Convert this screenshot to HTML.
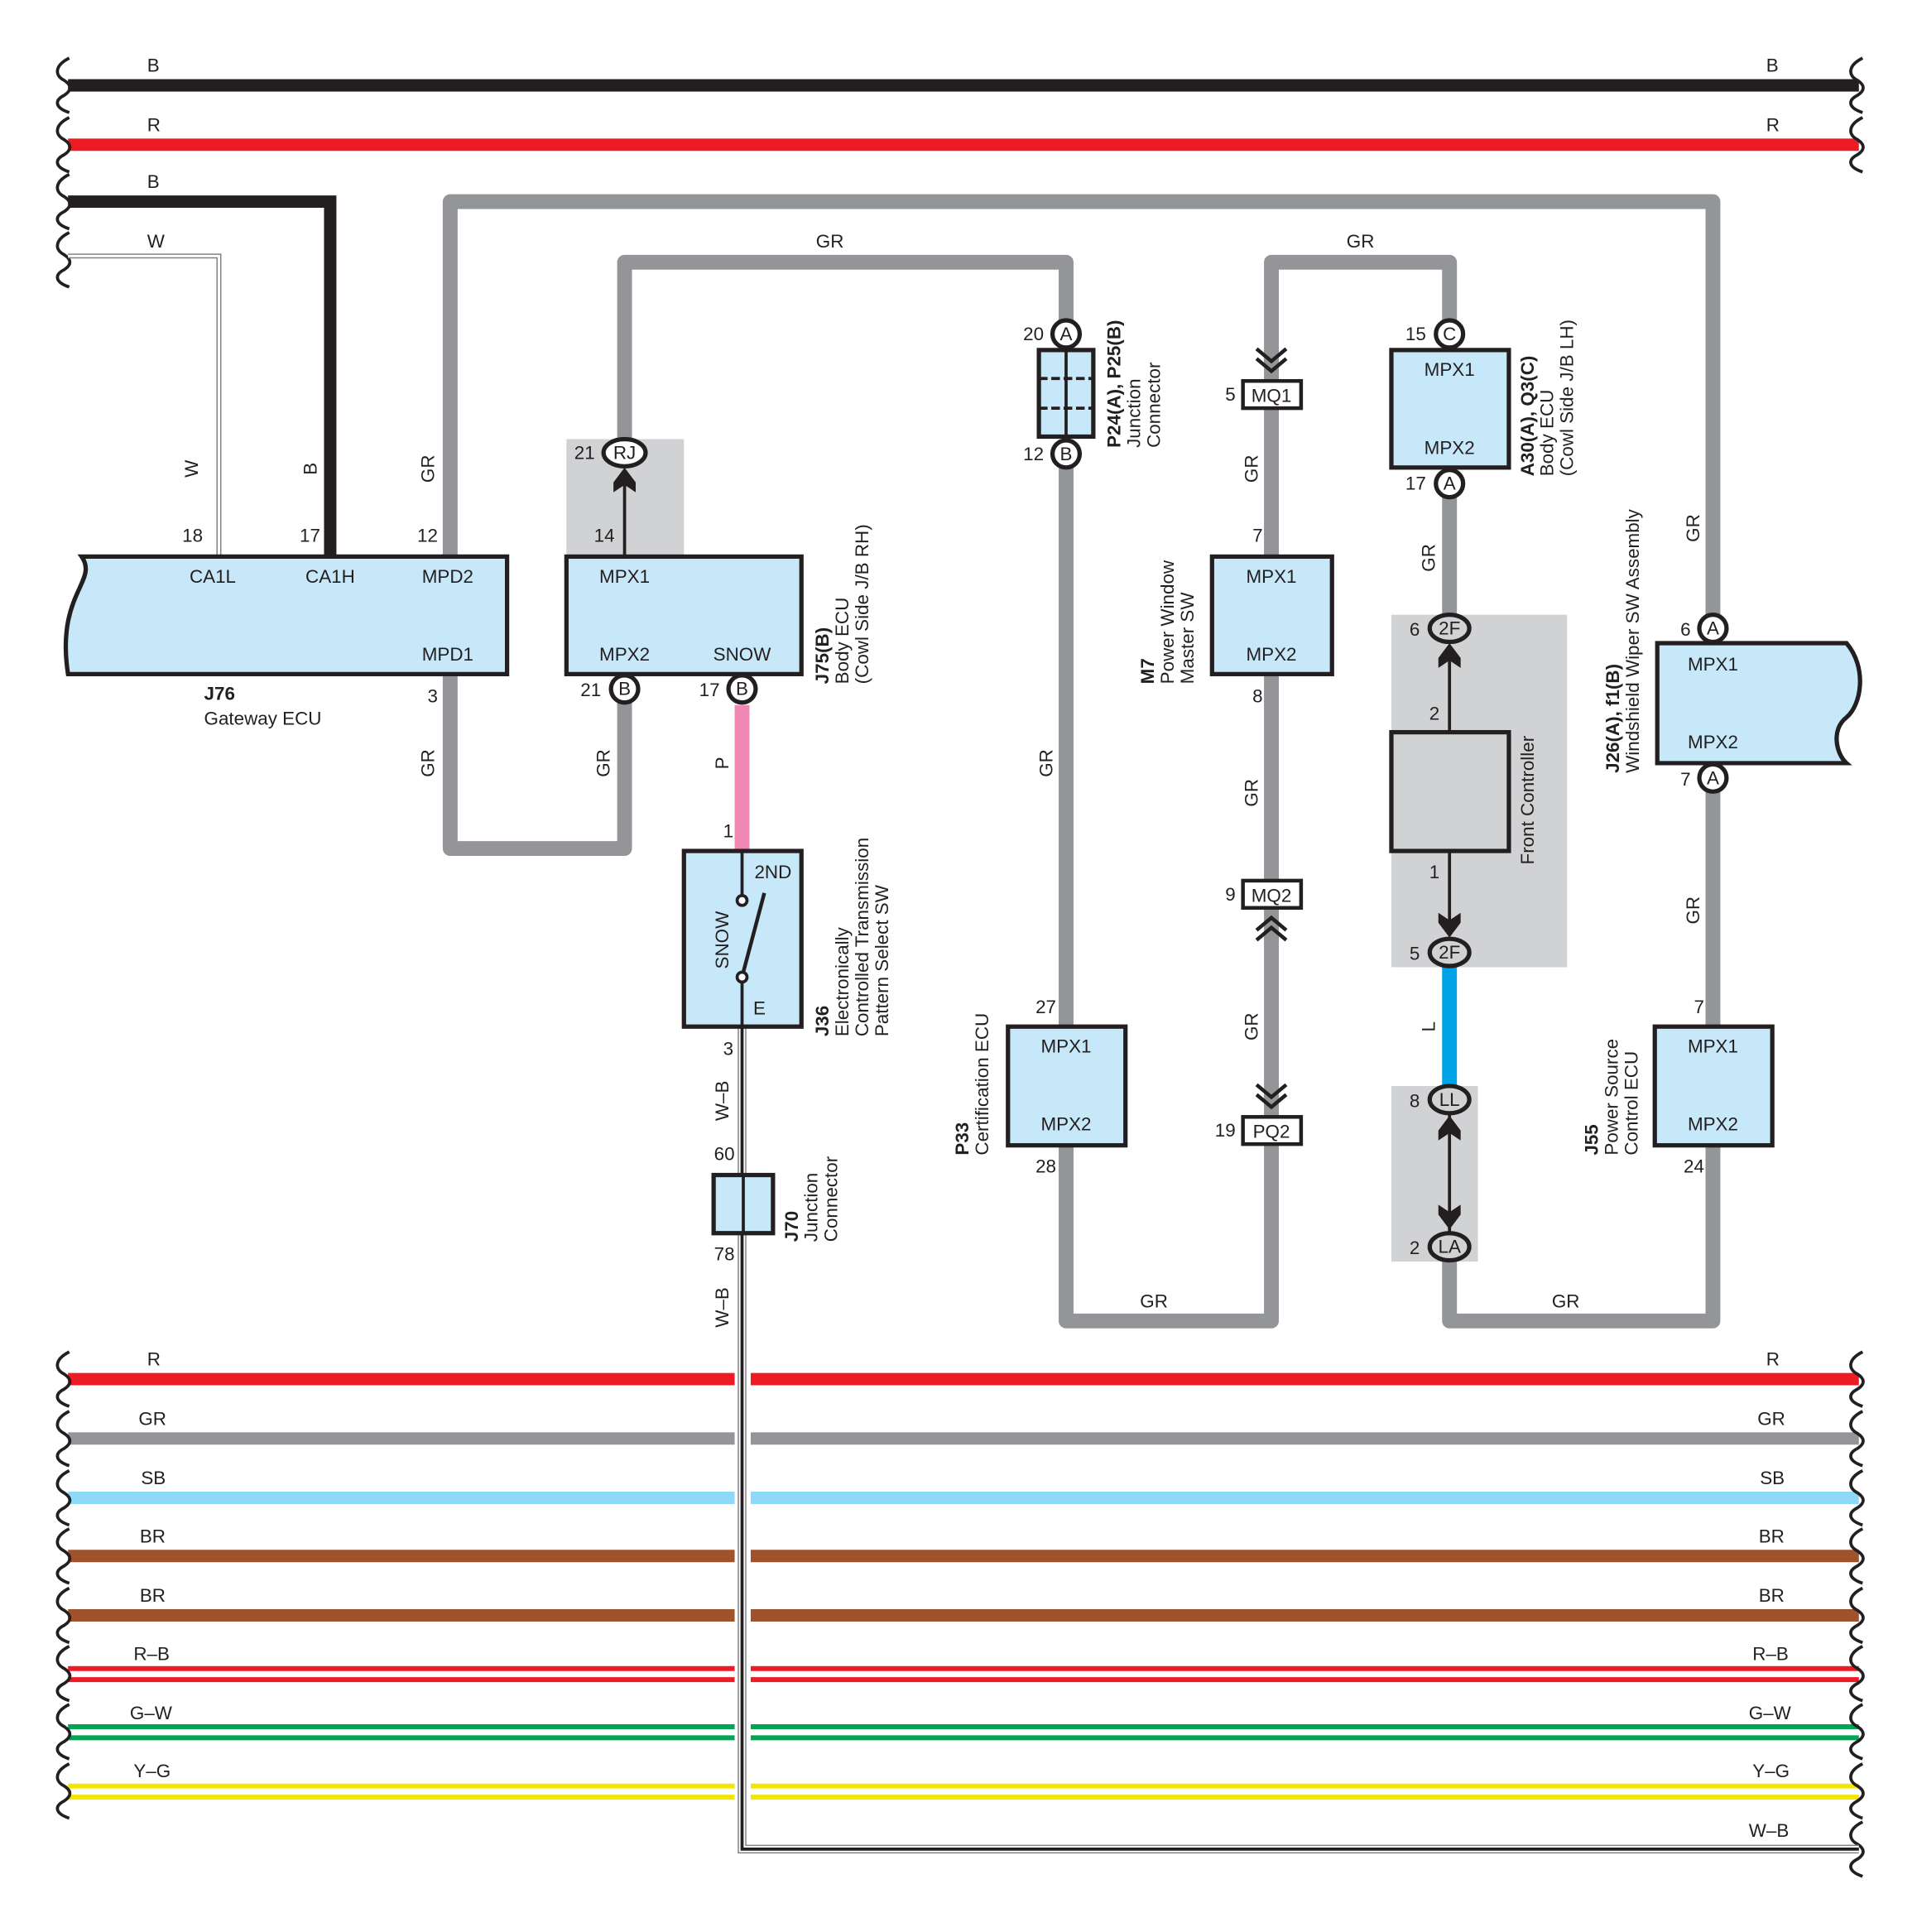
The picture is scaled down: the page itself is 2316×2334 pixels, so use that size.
<!DOCTYPE html>
<html><head><meta charset="utf-8"><style>
html,body{margin:0;padding:0;background:#fff}
svg{display:block}
text{font-family:"Liberation Sans",sans-serif;fill:#231f20}
</style></head><body>
<svg width="2316" height="2334" viewBox="0 0 1550 1562" preserveAspectRatio="none" xmlns="http://www.w3.org/2000/svg">
<defs>
<path id="brk" d="M6,-22 C-6,-16 -6,-8 2,-4 C8,0 8,4 2,8 C-6,12 -6,18 6,22" fill="none" stroke="#231f20" stroke-width="2.5"/>
</defs>
<g font-size="15">
<!-- top buses -->
<line x1="55" y1="69" x2="1503" y2="69" stroke="#231f20" stroke-width="10"/>
<line x1="55" y1="117" x2="1503" y2="117" stroke="#ed1c24" stroke-width="10"/>
<text x="119" y="58">B</text><text x="1428" y="58">B</text>
<text x="119" y="106">R</text><text x="1428" y="106">R</text>
<use href="#brk" x="50" y="69"/><use href="#brk" x="50" y="117"/><use href="#brk" x="1500" y="69"/><use href="#brk" x="1500" y="117"/>
<use href="#brk" x="50" y="163"/><use href="#brk" x="50" y="210"/>
<!-- B and W to J76 -->
<polyline points="55,163 267,163 267,450" fill="none" stroke="#231f20" stroke-width="10"/>
<polyline points="55,207 177,207 177,450" fill="none" stroke="#808285" stroke-width="4"/>
<polyline points="55,207 177,207 177,450" fill="none" stroke="#fff" stroke-width="2"/>
<text x="119" y="152">B</text><text x="119" y="200">W</text>
<!-- gray GR wires -->
<g fill="none" stroke="#939598" stroke-width="12" stroke-linejoin="round">
<polyline points="364,450 364,163 1385,163 1385,508"/>
<polyline points="1385,629 1385,1068 1172,1068 1172,1008"/>
<polyline points="364,545 364,686 505,686 505,557"/>
<polyline points="505,366 505,212 862,212 862,270"/>
<polyline points="862,367 862,1068 1028,1068 1028,913"/>
<polyline points="1172,270 1172,212 1028,212 1028,318"/>
<line x1="1028" y1="318" x2="1028" y2="913"/>
<line x1="1172" y1="391" x2="1172" y2="508"/>
</g>
<!-- gray backgrounds -->
<rect x="458" y="355" width="95" height="95" fill="#d1d2d4"/>
<rect x="1125" y="497" width="142" height="285" fill="#d1d2d4"/>
<rect x="1125" y="878" width="70" height="142" fill="#d1d2d4"/>
<!-- pink, blue -->
<line x1="600" y1="570" x2="600" y2="688" stroke="#f088b6" stroke-width="12"/>
<line x1="1172" y1="782" x2="1172" y2="878" stroke="#00a3e8" stroke-width="12"/>
<!-- bottom buses -->
<g stroke-width="10">
<line x1="55" y1="1115" x2="1503" y2="1115" stroke="#ed1c24"/>
<line x1="55" y1="1163" x2="1503" y2="1163" stroke="#939598"/>
<line x1="55" y1="1211" x2="1503" y2="1211" stroke="#8ed8f8"/>
<line x1="55" y1="1258" x2="1503" y2="1258" stroke="#a0522d"/>
<line x1="55" y1="1306" x2="1503" y2="1306" stroke="#a0522d"/>
</g>
<g stroke-width="4">
<line x1="55" y1="1349" x2="1503" y2="1349" stroke="#ed1c24"/>
<line x1="55" y1="1358" x2="1503" y2="1358" stroke="#ed1c24"/>
<line x1="55" y1="1396" x2="1503" y2="1396" stroke="#00a651"/>
<line x1="55" y1="1405" x2="1503" y2="1405" stroke="#00a651"/>
<line x1="55" y1="1444" x2="1503" y2="1444" stroke="#f2e600"/>
<line x1="55" y1="1453" x2="1503" y2="1453" stroke="#f2e600"/>
</g>
<rect x="594" y="1100" width="13" height="370" fill="#fff"/>
<g>
<text x="119" y="1104">R</text><text x="1428" y="1104">R</text>
<text x="112" y="1152">GR</text><text x="1421" y="1152">GR</text>
<text x="114" y="1200">SB</text><text x="1423" y="1200">SB</text>
<text x="113" y="1247">BR</text><text x="1422" y="1247">BR</text>
<text x="113" y="1295">BR</text><text x="1422" y="1295">BR</text>
<text x="108" y="1342">R–B</text><text x="1417" y="1342">R–B</text>
<text x="105" y="1390">G–W</text><text x="1414" y="1390">G–W</text>
<text x="108" y="1437">Y–G</text><text x="1417" y="1437">Y–G</text>
<text x="1414" y="1485">W–B</text>
</g>
<use href="#brk" x="50" y="1115"/><use href="#brk" x="50" y="1163"/><use href="#brk" x="50" y="1211"/><use href="#brk" x="50" y="1258"/><use href="#brk" x="50" y="1306"/><use href="#brk" x="50" y="1353"/><use href="#brk" x="50" y="1400"/><use href="#brk" x="50" y="1448"/>
<use href="#brk" x="1500" y="1115"/><use href="#brk" x="1500" y="1163"/><use href="#brk" x="1500" y="1211"/><use href="#brk" x="1500" y="1258"/><use href="#brk" x="1500" y="1306"/><use href="#brk" x="1500" y="1353"/><use href="#brk" x="1500" y="1400"/><use href="#brk" x="1500" y="1448"/><use href="#brk" x="1500" y="1495"/>
<!-- W-B wire -->
<polyline points="600,830 600,1495 1503,1495" fill="none" stroke="#808285" stroke-width="7"/>
<polyline points="600,830 600,1495 1503,1495" fill="none" stroke="#fff" stroke-width="5"/>
<polyline points="600,830 600,1495 1503,1495" fill="none" stroke="#231f20" stroke-width="2.5"/>

<!-- boxes -->
<g stroke="#231f20" stroke-width="3.5" fill="#c7e8f9">
<path d="M410,450 L66,450 C80,470 45,480 55,545 L410,545 Z"/>
<rect x="458" y="450" width="190" height="95"/>
<rect x="553" y="688" width="95" height="142"/>
<rect x="577" y="950" width="48" height="47"/>
<rect x="840" y="283" width="44" height="70"/>
<rect x="815" y="830" width="95" height="96"/>
<rect x="980" y="450" width="97" height="95"/>
<rect x="1125" y="283" width="95" height="95"/>
<path d="M1340,520 L1493,520 C1510,540 1505,570 1493,580 C1480,590 1485,610 1493,617 L1340,617 Z"/>
<rect x="1338" y="830" width="95" height="96"/>
<rect x="1125" y="592" width="95" height="96" fill="#d1d2d4"/>
</g>
<!-- P24 internal lines -->
<line x1="862" y1="283" x2="862" y2="353" stroke="#231f20" stroke-width="2.5"/>
<line x1="840" y1="306" x2="884" y2="306" stroke="#231f20" stroke-width="2.5" stroke-dasharray="7,3"/>
<line x1="840" y1="330" x2="884" y2="330" stroke="#231f20" stroke-width="2.5" stroke-dasharray="7,3"/>
<line x1="601" y1="950" x2="601" y2="997" stroke="#231f20" stroke-width="2.5"/>
<!-- switch -->
<line x1="600" y1="688" x2="600" y2="726" stroke="#231f20" stroke-width="2.5"/>
<line x1="600" y1="790" x2="600" y2="830" stroke="#231f20" stroke-width="2.5"/>
<circle cx="600" cy="728" r="4" fill="#fff" stroke="#231f20" stroke-width="2.5"/>
<circle cx="600" cy="790" r="4" fill="#fff" stroke="#231f20" stroke-width="2.5"/>
<line x1="601" y1="786" x2="618" y2="722" stroke="#231f20" stroke-width="3"/>
<!-- black arrows -->
<g stroke="#231f20" stroke-width="2.5">
<line x1="505" y1="450" x2="505" y2="385"/>
<line x1="1172" y1="592" x2="1172" y2="525"/>
<line x1="1172" y1="688" x2="1172" y2="752"/>
<line x1="1172" y1="900" x2="1172" y2="996"/>
</g>
<g fill="#231f20">
<path d="M505,378 L514,390 L514,398 L505,392 L496,398 L496,390 Z"/>
<path d="M1172,520 L1181,532 L1181,540 L1172,534 L1163,540 L1163,532 Z"/>
<path d="M1172,758 L1181,746 L1181,738 L1172,744 L1163,738 L1163,746 Z"/>
<path d="M1172,902 L1181,914 L1181,922 L1172,916 L1163,922 L1163,914 Z"/>
<path d="M1172,994 L1181,982 L1181,974 L1172,980 L1163,974 L1163,982 Z"/>
</g>
<!-- chevrons -->
<g fill="none" stroke="#231f20" stroke-width="3">
<polyline points="1016,282 1028,292 1040,282"/><polyline points="1016,290 1028,300 1040,290"/>
<polyline points="1016,752 1028,742 1040,752"/><polyline points="1016,760 1028,750 1040,760"/>
<polyline points="1016,877 1028,887 1040,877"/><polyline points="1016,885 1028,895 1040,885"/>
</g>
<g fill="#fff" stroke="#231f20" stroke-width="3">
<rect x="1005" y="308" width="47" height="22"/>
<rect x="1005" y="712" width="47" height="22"/>
<rect x="1005" y="903" width="47" height="22"/>
</g>
<g font-size="15" text-anchor="middle">
<text x="1028" y="325">MQ1</text><text x="1028" y="729">MQ2</text><text x="1028" y="920">PQ2</text>
</g>
<!-- connector circles -->
<g fill="#fff" stroke="#231f20" stroke-width="3.5">
<circle cx="862" cy="270" r="11"/><circle cx="862" cy="367" r="11"/>
<circle cx="505" cy="557" r="11"/><circle cx="600" cy="557" r="11"/>
<circle cx="1172" cy="270" r="11"/><circle cx="1172" cy="391" r="11"/>
<circle cx="1385" cy="508" r="11"/><circle cx="1385" cy="629" r="11"/>
<ellipse cx="505" cy="366" rx="17" ry="11"/>
<ellipse cx="1172" cy="508" rx="16" ry="11" fill="#d1d2d4"/>
<ellipse cx="1172" cy="770" rx="16" ry="11" fill="#d1d2d4"/>
<ellipse cx="1172" cy="889" rx="16" ry="11" fill="#d1d2d4"/>
<ellipse cx="1172" cy="1008" rx="16" ry="11" fill="#d1d2d4"/>
</g>
<g font-size="15" text-anchor="middle">
<text x="862" y="275">A</text><text x="862" y="372">B</text>
<text x="505" y="562">B</text><text x="600" y="562">B</text>
<text x="1172" y="275">C</text><text x="1172" y="396">A</text>
<text x="1385" y="513">A</text><text x="1385" y="634">A</text>
<text x="505" y="371">RJ</text>
<text x="1172" y="513">2F</text><text x="1172" y="775">2F</text>
<text x="1172" y="894">LL</text><text x="1172" y="1013">LA</text>
</g>
<!-- pin numbers -->
<g font-size="15" text-anchor="end">
<text x="164" y="438">18</text><text x="259" y="438">17</text><text x="354" y="438">12</text><text x="354" y="568">3</text>
<text x="481" y="371">21</text><text x="497" y="438">14</text><text x="486" y="563">21</text><text x="582" y="563">17</text>
<text x="593" y="677">1</text><text x="593" y="853">3</text><text x="594" y="938">60</text><text x="594" y="1019">78</text>
<text x="844" y="275">20</text><text x="844" y="372">12</text><text x="854" y="819">27</text><text x="854" y="948">28</text>
<text x="999" y="324">5</text><text x="1021" y="438">7</text><text x="1021" y="568">8</text><text x="999" y="728">9</text><text x="999" y="919">19</text>
<text x="1153" y="275">15</text><text x="1153" y="396">17</text><text x="1148" y="514">6</text><text x="1164" y="582">2</text><text x="1164" y="710">1</text><text x="1148" y="776">5</text><text x="1148" y="895">8</text><text x="1148" y="1014">2</text>
<text x="1367" y="514">6</text><text x="1367" y="635">7</text><text x="1378" y="819">7</text><text x="1378" y="948">24</text>
</g>
<!-- box labels -->
<g font-size="15" text-anchor="middle">
<text x="172" y="471">CA1L</text><text x="267" y="471">CA1H</text><text x="362" y="471">MPD2</text><text x="362" y="534">MPD1</text>
<text x="505" y="471">MPX1</text><text x="505" y="534">MPX2</text><text x="600" y="534">SNOW</text>
<text x="625" y="710">2ND</text><text x="614" y="820">E</text>
<text x="862" y="851">MPX1</text><text x="862" y="914">MPX2</text>
<text x="1028" y="471">MPX1</text><text x="1028" y="534">MPX2</text>
<text x="1172" y="304">MPX1</text><text x="1172" y="367">MPX2</text>
<text x="1385" y="542">MPX1</text><text x="1385" y="605">MPX2</text>
<text x="1385" y="851">MPX1</text><text x="1385" y="914">MPX2</text>
</g>
<text x="165" y="566" font-weight="bold">J76</text>
<text x="165" y="586">Gateway ECU</text>
<!-- rotated wire labels -->
<g font-size="15" text-anchor="middle">
<text transform="translate(160,379) rotate(-90)">W</text>
<text transform="translate(256,379) rotate(-90)">B</text>
<text transform="translate(351,379) rotate(-90)">GR</text>
<text transform="translate(351,617) rotate(-90)">GR</text>
<text transform="translate(493,617) rotate(-90)">GR</text>
<text transform="translate(589,617) rotate(-90)">P</text>
<text transform="translate(589,760) rotate(-90)">SNOW</text>
<text transform="translate(589,890) rotate(-90)">W–B</text>
<text transform="translate(589,1057) rotate(-90)">W–B</text>
<text transform="translate(851,617) rotate(-90)">GR</text>
<text transform="translate(1017,379) rotate(-90)">GR</text>
<text transform="translate(1017,641) rotate(-90)">GR</text>
<text transform="translate(1017,830) rotate(-90)">GR</text>
<text transform="translate(1160,451) rotate(-90)">GR</text>
<text transform="translate(1160,830) rotate(-90)">L</text>
<text transform="translate(1374,427) rotate(-90)">GR</text>
<text transform="translate(1374,736) rotate(-90)">GR</text>
<text x="671" y="200">GR</text><text x="1100" y="200">GR</text>
<text x="933" y="1057">GR</text><text x="1266" y="1057">GR</text>
</g>
<!-- rotated component labels -->
<g font-size="15">
<text transform="translate(670,553) rotate(-90)"><tspan font-weight="bold">J75(B)</tspan><tspan x="0" dy="16">Body ECU</tspan><tspan x="0" dy="16">(Cowl Side J/B RH)</tspan></text>
<text transform="translate(670,838) rotate(-90)"><tspan font-weight="bold">J36</tspan><tspan x="0" dy="16">Electronically</tspan><tspan x="0" dy="16">Controlled Transmission</tspan><tspan x="0" dy="16">Pattern Select SW</tspan></text>
<text transform="translate(645,1004) rotate(-90)"><tspan font-weight="bold">J70</tspan><tspan x="0" dy="16">Junction</tspan><tspan x="0" dy="16">Connector</tspan></text>
<text transform="translate(906,362) rotate(-90)"><tspan font-weight="bold">P24(A), P25(B)</tspan><tspan x="0" dy="16">Junction</tspan><tspan x="0" dy="16">Connector</tspan></text>
<text transform="translate(783,934) rotate(-90)"><tspan font-weight="bold">P33</tspan><tspan x="0" dy="16">Certification ECU</tspan></text>
<text transform="translate(933,553) rotate(-90)"><tspan font-weight="bold">M7</tspan><tspan x="0" dy="16">Power Window</tspan><tspan x="0" dy="16">Master SW</tspan></text>
<text transform="translate(1240,385) rotate(-90)"><tspan font-weight="bold">A30(A), Q3(C)</tspan><tspan x="0" dy="16">Body ECU</tspan><tspan x="0" dy="16">(Cowl Side J/B LH)</tspan></text>
<text transform="translate(1240,699) rotate(-90)">Front Controller</text>
<text transform="translate(1309,625) rotate(-90)"><tspan font-weight="bold">J26(A), f1(B)</tspan><tspan x="0" dy="16">Windshield Wiper SW Assembly</tspan></text>
<text transform="translate(1292,934) rotate(-90)"><tspan font-weight="bold">J55</tspan><tspan x="0" dy="16">Power Source</tspan><tspan x="0" dy="16">Control ECU</tspan></text>
</g>
</g>
</svg>
</body></html>
